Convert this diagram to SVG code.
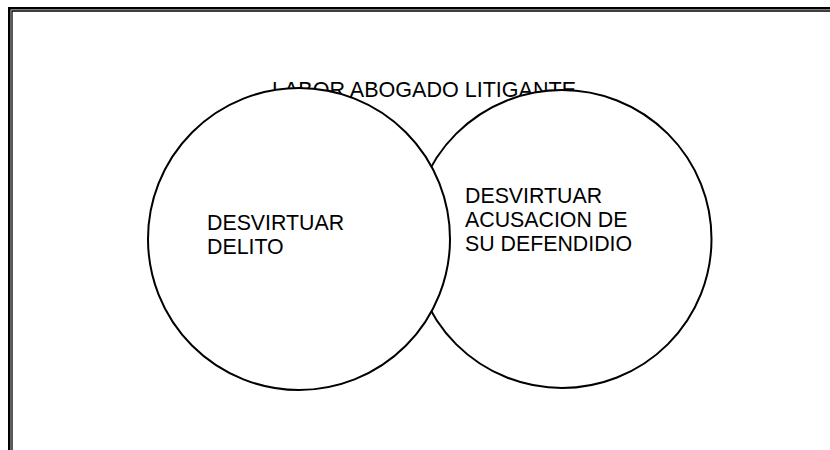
<svg xmlns="http://www.w3.org/2000/svg" width="830" height="450" viewBox="0 0 830 450">
<style>
.t{font-family:"Liberation Sans",Arial,sans-serif;font-size:21.33px;fill:#000}
.c{fill:#fff;stroke:#000;stroke-width:2}
</style>
<rect x="0" y="0" width="830" height="450" fill="#fff"/>
<g id="frame" fill="none" stroke="#000">
<path d="M9.3 460 V8.3 H840" stroke-width="2.6"/>
<path d="M12 460 V11 H840" stroke-width="1.3"/>
</g>
<g id="title"><text class="t" x="272" y="97" textLength="304" lengthAdjust="spacingAndGlyphs">LABOR ABOGADO LITIGANTE</text></g>
<g id="connectors"></g>
<g id="right-node">
<ellipse class="c" cx="562" cy="239" rx="149.5" ry="149"/>
<text class="t" x="465" y="203">DESVIRTUAR</text>
<text class="t" x="465" y="227">ACUSACION DE</text>
<text class="t" x="465" y="251">SU DEFENDIDIO</text>
</g>
<g id="left-node">
<ellipse class="c" cx="299" cy="239" rx="151" ry="151"/>
<text class="t" x="207" y="230">DESVIRTUAR</text>
<text class="t" x="207" y="254">DELITO</text>
</g>
</svg>
